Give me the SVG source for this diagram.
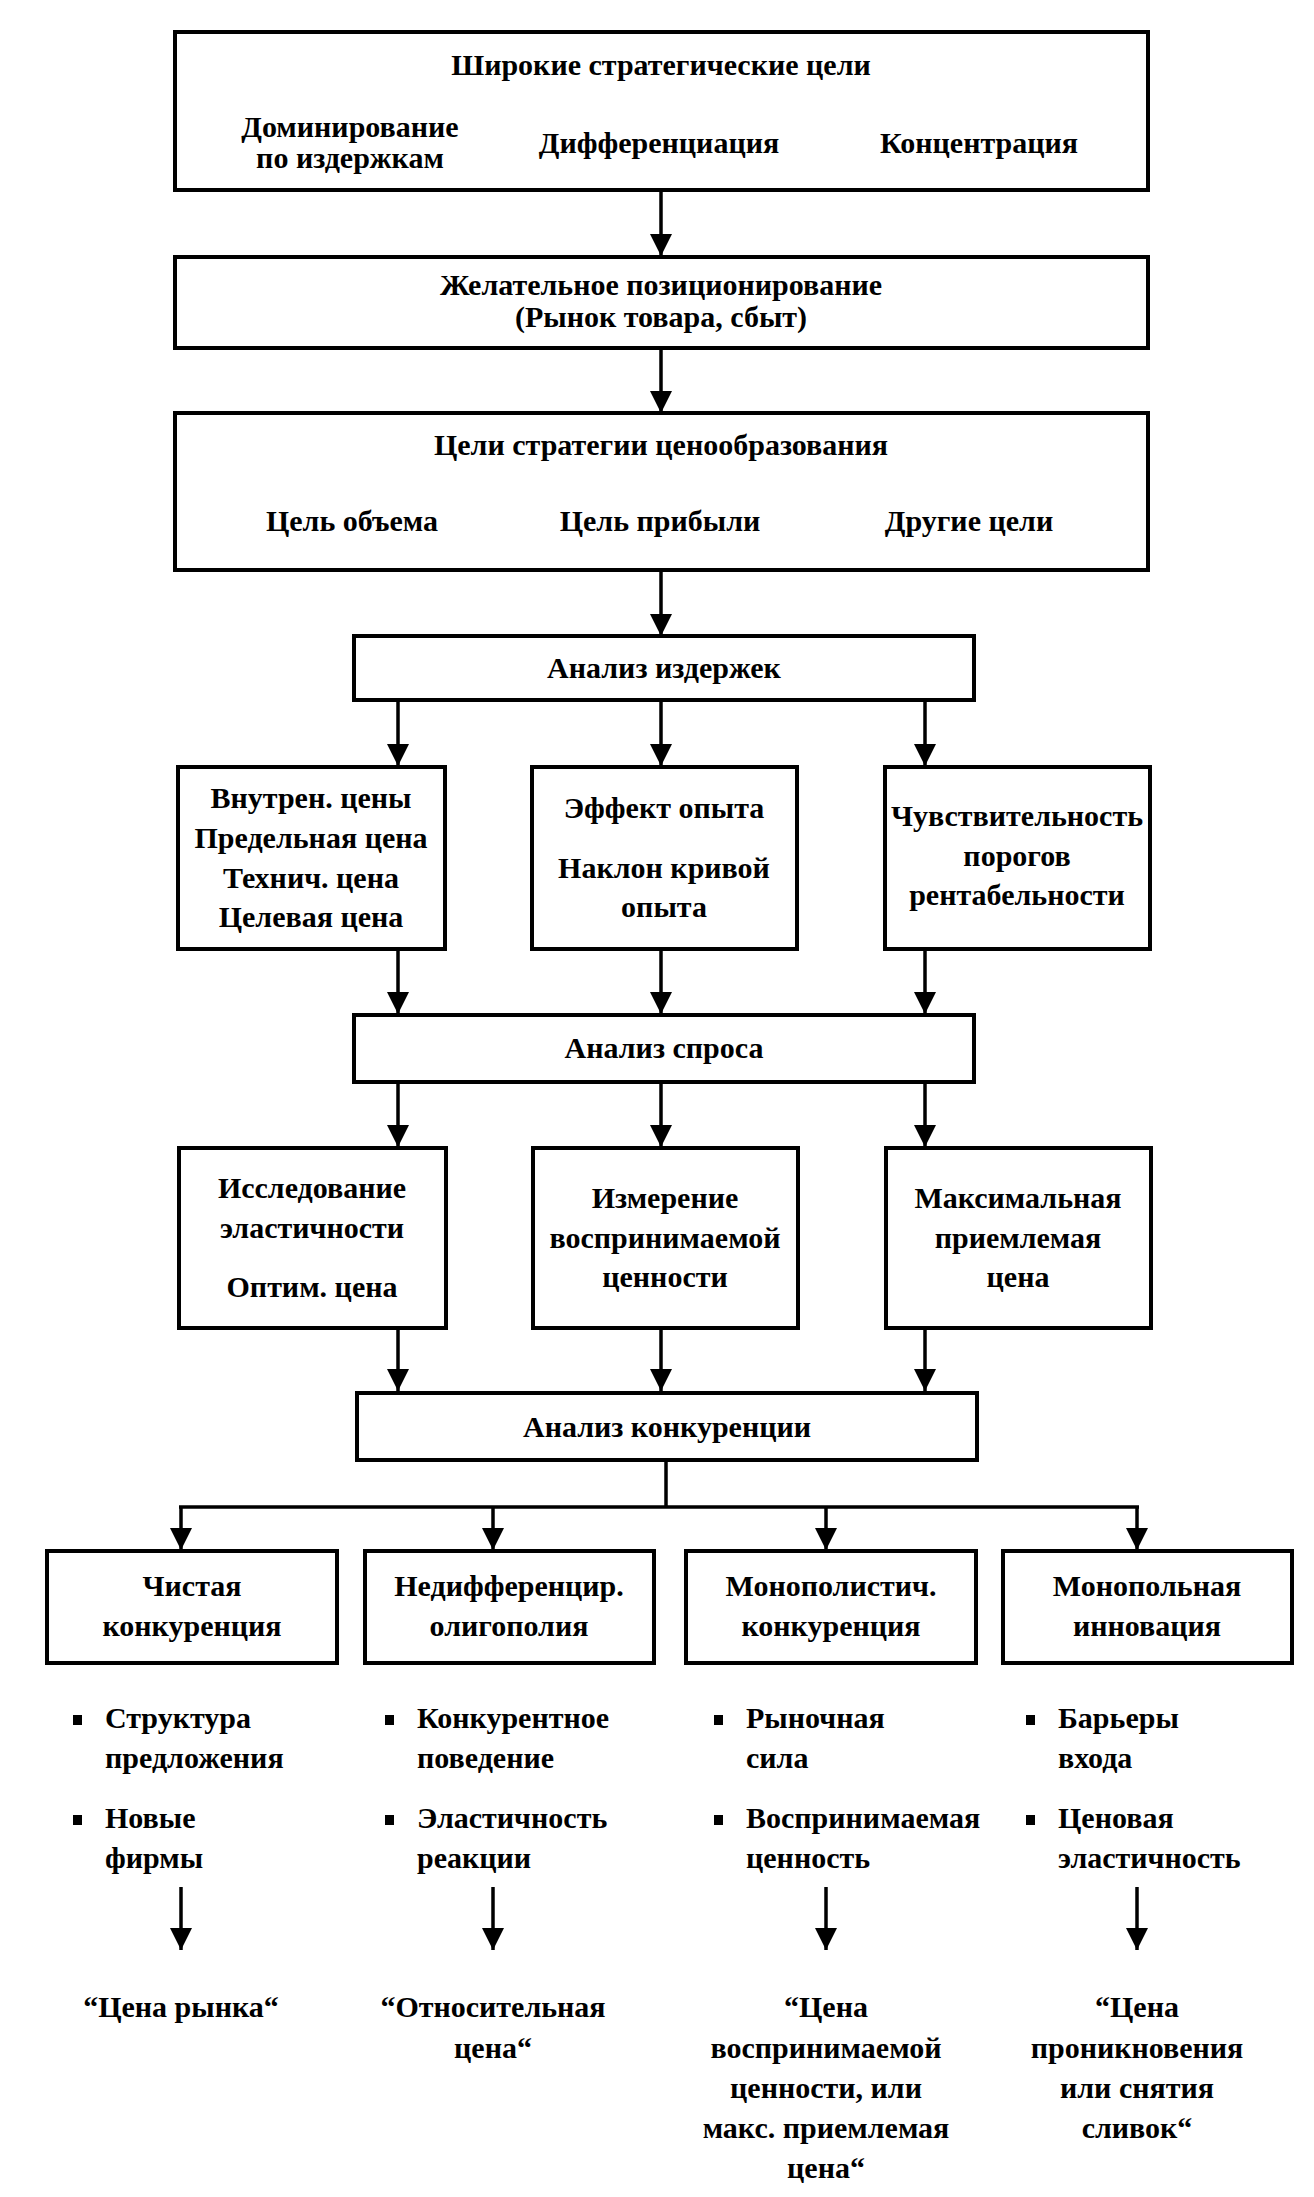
<svg xmlns="http://www.w3.org/2000/svg" width="1314" height="2197" viewBox="0 0 1314 2197">
<style>
.box{fill:#fff;stroke:#000;stroke-width:4}
.ln{fill:none;stroke:#000;stroke-width:3.5}
.arr{marker-end:url(#ah)}
text{font-family:"Liberation Serif","Times New Roman",serif;font-weight:bold;font-size:30px;fill:#000}
.c{text-anchor:middle}
.bul{fill:#000}
</style>
<defs>
<marker id="ah" viewBox="0 0 22 22" refX="22" refY="11" markerWidth="22" markerHeight="22" markerUnits="userSpaceOnUse" orient="auto">
<path d="M0,0 L22,11 L0,22 z" fill="#000"/>
</marker>
</defs>
<rect width="1314" height="2197" fill="#fff"/>

<g id="connectors">
<line class="ln arr" x1="661" y1="191" x2="661" y2="256"/>
<line class="ln arr" x1="661" y1="349" x2="661" y2="413"/>
<line class="ln arr" x1="661" y1="571" x2="661" y2="636"/>
<line class="ln arr" x1="398" y1="701" x2="398" y2="766"/>
<line class="ln arr" x1="661" y1="701" x2="661" y2="766"/>
<line class="ln arr" x1="925" y1="701" x2="925" y2="766"/>
<line class="ln arr" x1="398" y1="950" x2="398" y2="1014"/>
<line class="ln arr" x1="661" y1="950" x2="661" y2="1014"/>
<line class="ln arr" x1="925" y1="950" x2="925" y2="1014"/>
<line class="ln arr" x1="398" y1="1083" x2="398" y2="1147"/>
<line class="ln arr" x1="661" y1="1083" x2="661" y2="1147"/>
<line class="ln arr" x1="925" y1="1083" x2="925" y2="1147"/>
<line class="ln arr" x1="398" y1="1328" x2="398" y2="1391"/>
<line class="ln arr" x1="661" y1="1328" x2="661" y2="1391"/>
<line class="ln arr" x1="925" y1="1328" x2="925" y2="1391"/>
<line class="ln" x1="666" y1="1461" x2="666" y2="1507"/>
<line class="ln" x1="179" y1="1507" x2="1139" y2="1507"/>
<line class="ln arr" x1="181" y1="1507" x2="181" y2="1550"/>
<line class="ln arr" x1="493" y1="1507" x2="493" y2="1550"/>
<line class="ln arr" x1="826" y1="1507" x2="826" y2="1550"/>
<line class="ln arr" x1="1137" y1="1507" x2="1137" y2="1550"/>
<line class="ln arr" x1="181" y1="1887" x2="181" y2="1950"/>
<line class="ln arr" x1="493" y1="1887" x2="493" y2="1950"/>
<line class="ln arr" x1="826" y1="1887" x2="826" y2="1950"/>
<line class="ln arr" x1="1137" y1="1887" x2="1137" y2="1950"/>
</g>

<g id="broad-goals">
<rect class="box" x="175" y="32" width="973" height="158"/>
<text class="c" x="661" y="75">Широкие стратегические цели</text>
<text class="c" x="350" y="137">Доминирование</text>
<text class="c" x="350" y="168">по издержкам</text>
<text class="c" x="659" y="153">Дифференциация</text>
<text class="c" x="979" y="153">Концентрация</text>
</g>

<g id="positioning">
<rect class="box" x="175" y="257" width="973" height="91"/>
<text class="c" x="661" y="295">Желательное позиционирование</text>
<text class="c" x="661" y="327">(Рынок товара, сбыт)</text>
</g>

<g id="pricing-goals">
<rect class="box" x="175" y="413" width="973" height="157"/>
<text class="c" x="661" y="455">Цели стратегии ценообразования</text>
<text class="c" x="352" y="531">Цель объема</text>
<text class="c" x="660" y="531">Цель прибыли</text>
<text class="c" x="969" y="531">Другие цели</text>
</g>

<g id="cost-analysis">
<rect class="box" x="354" y="636" width="620" height="64"/>
<text class="c" x="664" y="678">Анализ издержек</text>
</g>

<g id="internal-prices">
<rect class="box" x="178" y="767" width="267" height="182"/>
<text class="c" x="311" y="808">Внутрен. цены</text>
<text class="c" x="311" y="848">Предельная цена</text>
<text class="c" x="311" y="888">Технич. цена</text>
<text class="c" x="311" y="927">Целевая цена</text>
</g>

<g id="experience">
<rect class="box" x="532" y="767" width="265" height="182"/>
<text class="c" x="664" y="818">Эффект опыта</text>
<text class="c" x="664" y="878">Наклон кривой</text>
<text class="c" x="664" y="917">опыта</text>
</g>

<g id="sensitivity">
<rect class="box" x="885" y="767" width="265" height="182"/>
<text class="c" x="1017" y="826">Чувствительность</text>
<text class="c" x="1017" y="866">порогов</text>
<text class="c" x="1017" y="905">рентабельности</text>
</g>

<g id="demand-analysis">
<rect class="box" x="354" y="1015" width="620" height="67"/>
<text class="c" x="664" y="1058">Анализ спроса</text>
</g>

<g id="elasticity">
<rect class="box" x="179" y="1148" width="267" height="180"/>
<text class="c" x="312" y="1198">Исследование</text>
<text class="c" x="312" y="1238">эластичности</text>
<text class="c" x="312" y="1297">Оптим. цена</text>
</g>

<g id="perceived-value">
<rect class="box" x="533" y="1148" width="265" height="180"/>
<text class="c" x="665" y="1208">Измерение</text>
<text class="c" x="665" y="1248">воспринимаемой</text>
<text class="c" x="665" y="1287">ценности</text>
</g>

<g id="max-price">
<rect class="box" x="886" y="1148" width="265" height="180"/>
<text class="c" x="1018" y="1208">Максимальная</text>
<text class="c" x="1018" y="1248">приемлемая</text>
<text class="c" x="1018" y="1287">цена</text>
</g>

<g id="competition-analysis">
<rect class="box" x="357" y="1393" width="620" height="67"/>
<text class="c" x="667" y="1437">Анализ конкуренции</text>
</g>

<g id="pure-competition">
<rect class="box" x="47" y="1551" width="290" height="112"/>
<text class="c" x="192" y="1596">Чистая</text>
<text class="c" x="192" y="1636">конкуренция</text>
<rect class="bul" x="73" y="1715" width="9" height="10"/>
<text x="105" y="1728">Структура</text>
<text x="105" y="1768">предложения</text>
<rect class="bul" x="73" y="1815" width="9" height="10"/>
<text x="105" y="1828">Новые</text>
<text x="105" y="1868">фирмы</text>
<text class="c" x="181" y="2017">“Цена рынка“</text>
</g>

<g id="oligopoly">
<rect class="box" x="365" y="1551" width="289" height="112"/>
<text class="c" x="509" y="1596">Недифференцир.</text>
<text class="c" x="509" y="1636">олигополия</text>
<rect class="bul" x="385" y="1715" width="9" height="10"/>
<text x="417" y="1728">Конкурентное</text>
<text x="417" y="1768">поведение</text>
<rect class="bul" x="385" y="1815" width="9" height="10"/>
<text x="417" y="1828">Эластичность</text>
<text x="417" y="1868">реакции</text>
<text class="c" x="493" y="2017">“Относительная</text>
<text class="c" x="493" y="2058">цена“</text>
</g>

<g id="monopolistic">
<rect class="box" x="686" y="1551" width="290" height="112"/>
<text class="c" x="831" y="1596">Монополистич.</text>
<text class="c" x="831" y="1636">конкуренция</text>
<rect class="bul" x="714" y="1715" width="9" height="10"/>
<text x="746" y="1728">Рыночная</text>
<text x="746" y="1768">сила</text>
<rect class="bul" x="714" y="1815" width="9" height="10"/>
<text x="746" y="1828">Воспринимаемая</text>
<text x="746" y="1868">ценность</text>
<text class="c" x="826" y="2017">“Цена</text>
<text class="c" x="826" y="2058">воспринимаемой</text>
<text class="c" x="826" y="2098">ценности, или</text>
<text class="c" x="826" y="2138">макс. приемлемая</text>
<text class="c" x="826" y="2178">цена“</text>
</g>

<g id="monopoly-innovation">
<rect class="box" x="1003" y="1551" width="289" height="112"/>
<text class="c" x="1147" y="1596">Монопольная</text>
<text class="c" x="1147" y="1636">инновация</text>
<rect class="bul" x="1026" y="1715" width="9" height="10"/>
<text x="1058" y="1728">Барьеры</text>
<text x="1058" y="1768">входа</text>
<rect class="bul" x="1026" y="1815" width="9" height="10"/>
<text x="1058" y="1828">Ценовая</text>
<text x="1058" y="1868">эластичность</text>
<text class="c" x="1137" y="2017">“Цена</text>
<text class="c" x="1137" y="2058">проникновения</text>
<text class="c" x="1137" y="2098">или снятия</text>
<text class="c" x="1137" y="2138">сливок“</text>
</g>
</svg>
